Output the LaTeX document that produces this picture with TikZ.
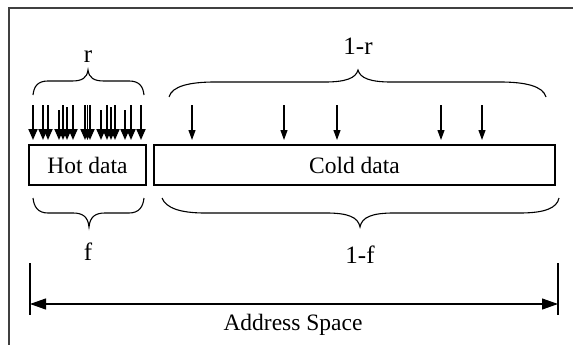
\documentclass[tikz,border=0pt]{standalone}
\usepackage{fontspec}
\setmainfont{Liberation Serif}
\usetikzlibrary{arrows.meta}
\begin{document}
\begin{tikzpicture}[x=1pt,y=-1pt,
  txt/.style={font=\fontsize{23.5}{26}\selectfont, inner sep=0pt},
  lbl/.style={font=\fontsize{25}{28}\selectfont, inner sep=0pt},
  databox/.style={draw, line width=1.1pt, minimum height=40pt, inner sep=0pt, font=\fontsize{23.5}{26}\selectfont},
  hotarrow/.style={-{Triangle[length=11pt,width=9pt]}, line width=1.9pt},
  coldarrow/.style={-{Triangle[length=10pt,width=7pt]}, line width=1.1pt},
  bracestyle/.style={line width=1.1pt},
  dimline/.style={{Triangle[length=16pt,width=11pt]}-{Triangle[length=16pt,width=11pt]}, line width=1.1pt}]
\useasboundingbox (0,0) rectangle (573,345);
% frame
\draw[line width=1.1pt, black!75] (9,345) -- (9,8) -- (573,8);
% boxes
\node[databox, minimum width=117pt] (hot) at (87.5,165) {Hot data};
\node[databox, minimum width=401pt] (cold) at (354.5,165) {Cold data};
% hot arrows
\foreach \x/\t [count=\i] in {33/105,43/105,48/105,59/110,63/105,67/107,73/105,85/105,87.5/105,90/105,101/110,107/105,111/107,115/105,125/110,131/105,141/105}{
  \coordinate (hs\i) at (\x,\t);
  \coordinate (he\i) at (\x,140);
  \draw[hotarrow] (hs\i) -- (he\i);
}
% cold arrows
\foreach \x [count=\i] in {192,284,337,441,482}{
  \coordinate (cs\i) at (\x,105);
  \coordinate (ce\i) at (\x,140);
  \draw[coldarrow] (cs\i) -- (ce\i);
}
% top braces
\draw[bracestyle] (33,95) .. controls (34,86) and (38,81) .. (48,81) -- (72,81)
  .. controls (82,81) and (87,78) .. (88,70) .. controls (89,78) and (94,81) .. (104,81)
  -- (129,81) .. controls (139,81) and (143,86) .. (144,95);
\draw[bracestyle] (169,97) .. controls (172,86) and (190,82) .. (215,82) -- (325,82)
  .. controls (346,82) and (356,78) .. (358,70) .. controls (360,78) and (370,82) .. (391,82)
  -- (500,82) .. controls (525,82) and (543,86) .. (546,97);
% bottom braces
\draw[bracestyle] (33,198) .. controls (34,207) and (38,213) .. (48,213) -- (73,213)
  .. controls (83,213) and (88,217) .. (89,227) .. controls (90,217) and (95,213) .. (105,213)
  -- (129,213) .. controls (139,213) and (143,207) .. (144,198);
\draw[bracestyle] (162,198) .. controls (166,208) and (180,213) .. (205,213) -- (326,213)
  .. controls (348,213) and (358,217) .. (360,227) .. controls (362,217) and (372,213) .. (394,213)
  -- (520,213) .. controls (545,213) and (557,208) .. (559,198);
% labels
\node[lbl] (r) at (88,57) {r};
\node[lbl] (oner) at (358,46) {1-r};
\node[lbl] (f) at (88,252) {f};
\node[lbl] (onef) at (360,255) {1-f};
% address space
\coordinate (lt) at (30,263); \coordinate (lb) at (30,315);
\coordinate (rt) at (558,263); \coordinate (rb) at (558,315);
\draw[line width=1.1pt] (lt) -- (lb);
\draw[line width=1.1pt] (rt) -- (rb);
\coordinate (al) at (30,304); \coordinate (ar) at (558,304);
\draw[dimline] (al) -- (ar);
\node[txt] (addr) at (293,325) {Address Space};
\end{tikzpicture}
\end{document}
